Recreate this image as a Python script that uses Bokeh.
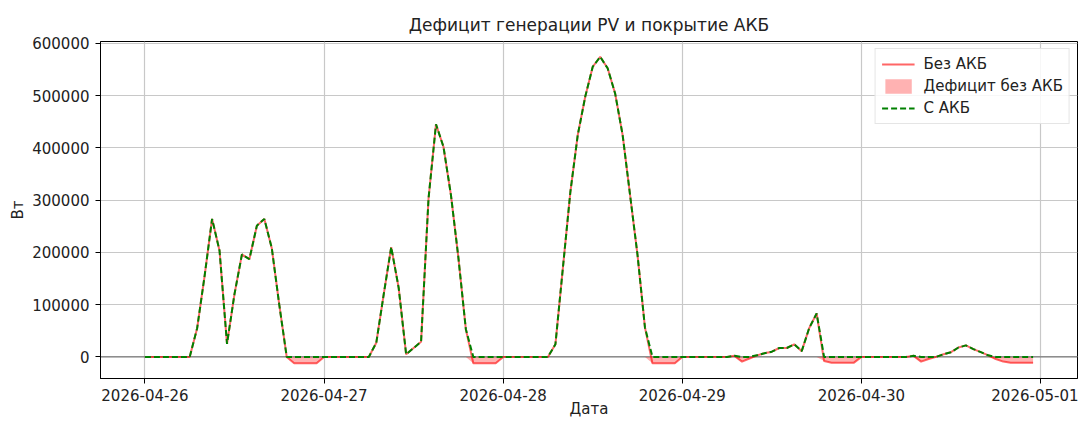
import numpy as np
import pandas as pd
from bokeh.plotting import figure
from bokeh.models import (Range1d, FixedTicker, DatetimeTickFormatter, BasicTickFormatter,
                          Span, ColumnDataSource)
from bokeh.embed import file_html
from bokeh.resources import INLINE

# ---- data (W), hourly from 2026-04-26 00:00 ----
start = "2026-04-26 00:00"
day_labels = ["2026-04-26", "2026-04-27", "2026-04-28", "2026-04-29", "2026-04-30", "2026-05-01"]
y_ticks = [0, 100000, 200000, 300000, 400000, 500000, 600000]

no_batt_d1 = [0, 0, 0, 0, 0, 0, 0, 55000, 155000, 264000, 203000, 25000,
              120000, 196000, 187000, 251000, 264000, 208000, 100000, 0, -12000, -12000, -12000, -12000]
no_batt_d2 = [0, 0, 0, 0, 0, 0, 0, 27000, 120000, 210000, 132000, 5000,
              17000, 29000, 303000, 445000, 402000, 310000, 190000, 53000, -12000, -12000, -12000, -12000]
no_batt_d3 = [0, 0, 0, 0, 0, 0, 0, 24000, 170000, 315000, 425000, 498000,
              555000, 574000, 552000, 504000, 425000, 310000, 195000, 56000, -12000, -12000, -12000, -12000]
no_batt_d4 = [0, 0, 0, 0, 0, 0, 0, 2000, -9000, -3000, 3000, 7000,
              10000, 17000, 17000, 24000, 11000, 55000, 83000, -8000, -11000, -11000, -11000, -11000]
no_batt_d5 = [0, 0, 0, 0, 0, 0, 0, 2000, -9000, -4000, 0, 5000,
              9000, 18000, 22000, 15000, 9000, 3000, -4000, -9000, -11000, -11000, -11000, -11000]

with_batt_d1 = [0, 0, 0, 0, 0, 0, 0, 55000, 155000, 264000, 203000, 25000,
                120000, 196000, 187000, 251000, 264000, 208000, 100000, 0, 0, 0, 0, 0]
with_batt_d2 = [0, 0, 0, 0, 0, 0, 0, 27000, 120000, 210000, 132000, 5000,
                17000, 29000, 303000, 445000, 402000, 310000, 190000, 53000, 0, 0, 0, 0]
with_batt_d3 = [0, 0, 0, 0, 0, 0, 0, 24000, 170000, 315000, 425000, 498000,
                555000, 574000, 552000, 504000, 425000, 310000, 195000, 56000, 0, 0, 0, 0]
with_batt_d4 = [0, 0, 0, 0, 0, 0, 0, 2000, 0, 0, 3000, 7000,
                10000, 17000, 17000, 24000, 11000, 55000, 83000, 0, 0, 0, 0, 0]
with_batt_d5 = [0, 0, 0, 0, 0, 0, 0, 2000, 0, 0, 0, 5000,
                9000, 18000, 22000, 15000, 9000, 3000, 0, 0, 0, 0, 0, 0]

no_batt = no_batt_d1 + no_batt_d2 + no_batt_d3 + no_batt_d4 + no_batt_d5
with_batt = with_batt_d1 + with_batt_d2 + with_batt_d3 + with_batt_d4 + with_batt_d5

times = pd.date_range(start, periods=len(no_batt), freq="h")
deficit_low = [min(v, 0) for v in no_batt]

src = ColumnDataSource(dict(t=times, nb=no_batt, wb=with_batt, lo=deficit_low,
                            zero=[0] * len(no_batt)))

# axis ranges with 5% margins like the source
span_t = times[-1] - times[0]
x0 = times[0] - 0.05 * span_t
x1 = times[-1] + 0.05 * span_t
ymin, ymax = min(no_batt), max(no_batt)
yr = ymax - ymin

FONT = "DejaVu Sans"
TXT = "#222222"

p = figure(width=1078, height=420, x_axis_type="datetime",
           x_range=Range1d(x0, x1), y_range=Range1d(ymin - 0.05 * yr, ymax + 0.05 * yr),
           output_backend="svg", toolbar_location=None,
           min_border_left=100, min_border_right=1, min_border_top=41, min_border_bottom=40,
           title="Дефицит генерации PV и покрытие АКБ")

p.title.align = "center"
p.title.text_font = FONT
p.title.text_font_size = "17px"
p.title.text_font_style = "normal"
p.title.text_color = TXT
p.title.standoff = 14

p.outline_line_color = "black"
p.outline_line_width = 1
p.outline_line_alpha = 1

zero_line = Span(location=0, dimension="width", line_color="#7a7a7a", line_width=1.4, level="underlay")
p.add_layout(zero_line)

p.varea(x="t", y1="lo", y2="zero", source=src, fill_color="red", fill_alpha=0.3,
        legend_label="Дефицит без АКБ")
p.line(x="t", y="nb", source=src, line_color="red", line_alpha=0.6, line_width=2,
       legend_label="Без АКБ")
p.line(x="t", y="wb", source=src, line_color="green", line_width=2, line_dash="6 3",
       legend_label="С АКБ")

# legend order: Без АКБ, Дефицит без АКБ, С АКБ
items = p.legend[0].items
order = ["Без АКБ", "Дефицит без АКБ", "С АКБ"]
p.legend[0].items = sorted(items, key=lambda it: order.index(it.label["value"]))

leg = p.legend[0]
leg.location = "top_right"
leg.margin = 7
leg.padding = 6
leg.spacing = 4
leg.glyph_width = 33
leg.glyph_height = 18
leg.label_standoff = 9
leg.label_text_font = FONT
leg.label_text_font_size = "15px"
leg.label_text_color = TXT
leg.border_line_color = "#cccccc"
leg.background_fill_alpha = 0.85

# x axis
day_ms = [pd.Timestamp(d).value / 1e6 for d in day_labels]
p.xaxis.ticker = FixedTicker(ticks=day_ms)
fmt = "%Y-%m-%d"
p.xaxis.formatter = DatetimeTickFormatter(days=fmt, months=fmt, years=fmt, hours=fmt,
                                          hourmin=fmt, minutes=fmt, minsec=fmt,
                                          seconds=fmt, milliseconds=fmt, microseconds=fmt)
p.xaxis.axis_label = "Дата"
p.yaxis.axis_label = "Вт"
p.yaxis.ticker = FixedTicker(ticks=y_ticks)
p.yaxis.formatter = BasicTickFormatter(use_scientific=False)

for ax in (p.xaxis[0], p.yaxis[0]):
    ax.major_tick_out = 5
    ax.major_tick_in = 0
    ax.major_label_standoff = 6
    ax.minor_tick_line_color = None
    ax.axis_line_color = "black"
    ax.major_tick_line_color = "black"
    ax.major_label_text_font = FONT
    ax.major_label_text_font_size = "15px"
    ax.major_label_text_color = TXT
    ax.axis_label_text_font = FONT
    ax.axis_label_text_font_size = "15px"
    ax.axis_label_text_font_style = "normal"
    ax.axis_label_text_color = TXT
p.xaxis.major_label_standoff = 5
p.xaxis.axis_label_standoff = -4
p.yaxis.axis_label_standoff = 2

p.grid.grid_line_color = "#c8c8c8"
p.grid.grid_line_width = 1.2
p.xgrid.ticker = FixedTicker(ticks=day_ms)

open("out.html", "w").write(file_html(p, INLINE))
